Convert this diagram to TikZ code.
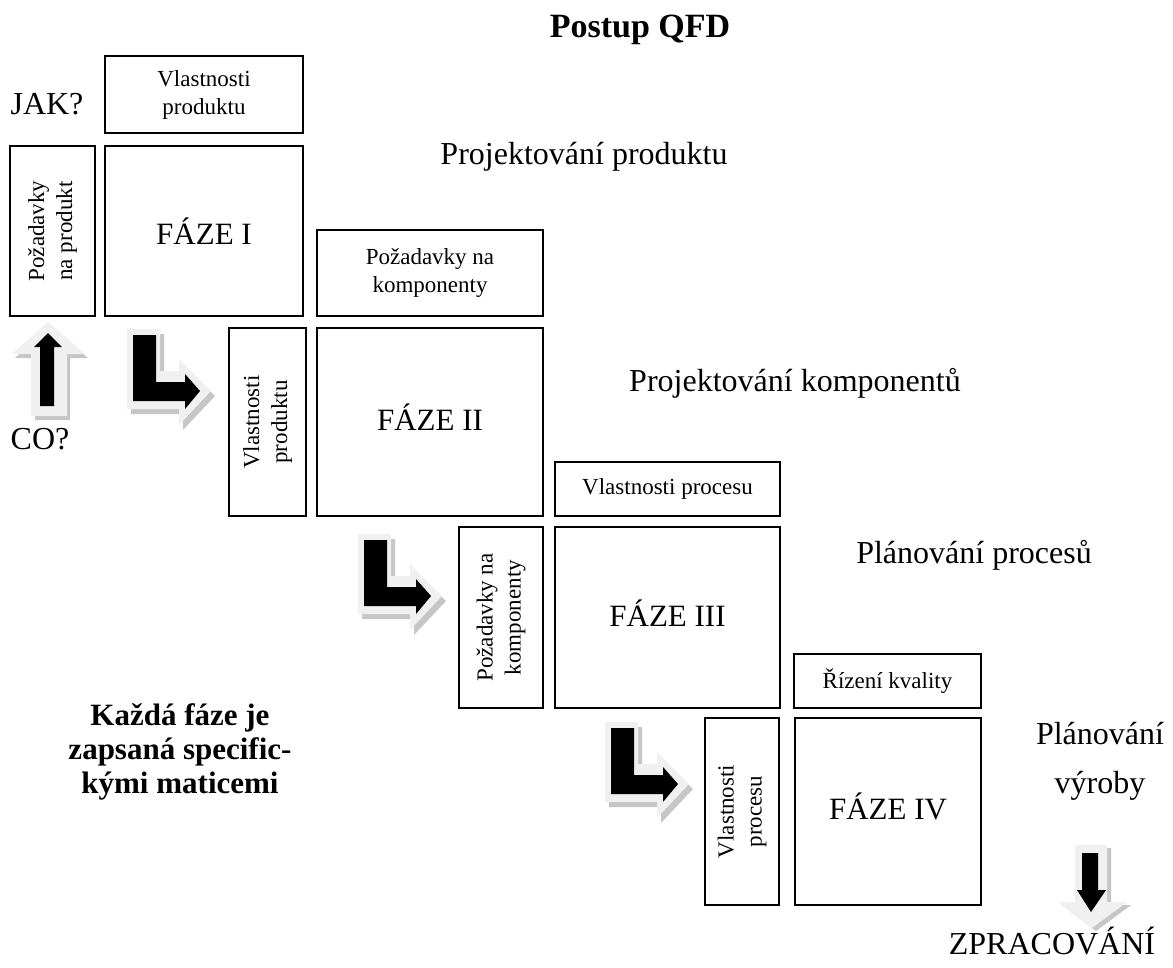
\documentclass[tikz,border=0pt]{standalone}
\usepackage{fontspec}
\setmainfont{Liberation Serif}
\newcommand{\bigtxt}{\fontsize{31}{36}\selectfont}
\newcommand{\labeltxt}{\fontsize{32}{37}\selectfont}
\newcommand{\smalltxt}{\fontsize{23}{28}\selectfont}
\newcommand{\vtext}[2]{\rotatebox{90}{\begin{tabular}{@{}c@{}}#1\\#2\end{tabular}}}
\begin{document}
\begin{tikzpicture}[x=1pt,y=-1pt,
  box/.style={draw=black, line width=1.6pt, inner sep=0pt, align=center, font=\smalltxt},
  phase/.style={box, font=\bigtxt},
  label/.style={inner sep=0pt, font=\labeltxt, align=center},
  lgray/.style={fill=gray!12},
  lshadow/.style={fill=gray!45},
  pics/larrow/.style={code={
    \fill[lshadow] (4,5) -- (37,5) -- (37,47) -- (56,47) -- (56,35) -- (88,67) -- (56,101) -- (56,85) -- (4,85) -- cycle;
    \fill[lgray] (0,0) -- (33,0) -- (33,42) -- (52,42) -- (52,30) -- (84,62) -- (52,96) -- (52,80) -- (0,80) -- cycle;
    \fill[black] (6,6) -- (29,6) -- (29,53) -- (58,53) -- (58,45) -- (73,62) -- (58,80) -- (58,72) -- (6,72) -- cycle;
  }}
]
\useasboundingbox[fill=white] (0,0) rectangle (1173,967);

% title
\node[inner sep=0pt, font={\fontsize{34}{39}\selectfont\bfseries}] (title) at (640,30) {Postup QFD};

% phase I
\node[box, minimum width=198pt, minimum height=77pt] (vp1) at (204,94.5) {Vlastnosti\\produktu};
\node[box, minimum width=85pt, minimum height=170pt] (pp) at (52.5,231) {\vtext{Požadavky}{na produkt}};
\node[phase, minimum width=198pt, minimum height=170pt] (f1) at (204,231) {FÁZE I};

% phase II
\node[box, minimum width=226pt, minimum height=86pt] (pk1) at (430,273) {Požadavky na\\komponenty};
\node[box, minimum width=77pt, minimum height=188pt] (vp2) at (267.5,422) {\vtext{Vlastnosti}{produktu}};
\node[phase, minimum width=226pt, minimum height=188pt] (f2) at (430,422) {\raisebox{10pt}{FÁZE II}};

% phase III
\node[box, minimum width=225pt, minimum height=54pt] (vpr1) at (667.5,489) {Vlastnosti procesu};
\node[box, minimum width=84pt, minimum height=181pt] (pk2) at (501,617.5) {\vtext{Požadavky na}{komponenty}};
\node[phase, minimum width=225pt, minimum height=181pt] (f3) at (667.5,617.5) {\raisebox{9pt}{FÁZE III}};

% phase IV
\node[box, minimum width=187pt, minimum height=54pt] (rk) at (887.5,681) {Řízení kvality};
\node[box, minimum width=74pt, minimum height=187pt] (vpr2) at (742,811.5) {\vtext{Vlastnosti}{procesu}};
\node[phase, minimum width=186pt, minimum height=187pt] (f4) at (888,811.5) {\raisebox{11pt}{FÁZE IV}};

% labels
\node[label] (jak) at (47,104) {JAK?};
\node[label] (co) at (40,439) {CO?};
\node[label] (proj1) at (584,157) {Projektování produktu};
\node[label] (proj2) at (795,383) {Projektování komponentů};
\node[label] (plan1) at (974,555) {Plánování procesů};
\node[label] (plan2a) at (1100,734) {Plánování};
\node[label] (plan2b) at (1100,786) {výroby};
\node[label] (zprac) at (1052,941) {ZPRACOVÁNÍ};
\node[label, font={\fontsize{31}{34}\selectfont\bfseries}] (note) at (180,752) {Každá fáze je\\zapsaná specific-\\kými maticemi};

% up arrow
\fill[lshadow] (51,326) -- (88,358) -- (70,358) -- (70,420) -- (35,420) -- (35,358) -- (15,358) -- cycle;
\fill[lgray] (48,322) -- (85,354) -- (67,354) -- (67,416) -- (31,416) -- (31,354) -- (12,354) -- cycle;
\fill[black] (48,333) -- (62,347) -- (54,347) -- (54,406) -- (40,406) -- (40,347) -- (34,347) -- cycle;

% L arrows
\pic at (127,329) {larrow};
\pic at (358,534) {larrow};
\pic at (605,722) {larrow};

% down arrow
\fill[lshadow] (1079,848) -- (1111,848) -- (1111,905) -- (1131,905) -- (1096,931) -- (1062,905) -- (1079,905) -- cycle;
\fill[lgray] (1075,845) -- (1107,845) -- (1107,902) -- (1127,902) -- (1092,928) -- (1058,902) -- (1075,902) -- cycle;
\fill[black] (1082,853) -- (1098,853) -- (1098,890) -- (1106,890) -- (1091,912) -- (1077,890) -- (1082,890) -- cycle;
\end{tikzpicture}
\end{document}
